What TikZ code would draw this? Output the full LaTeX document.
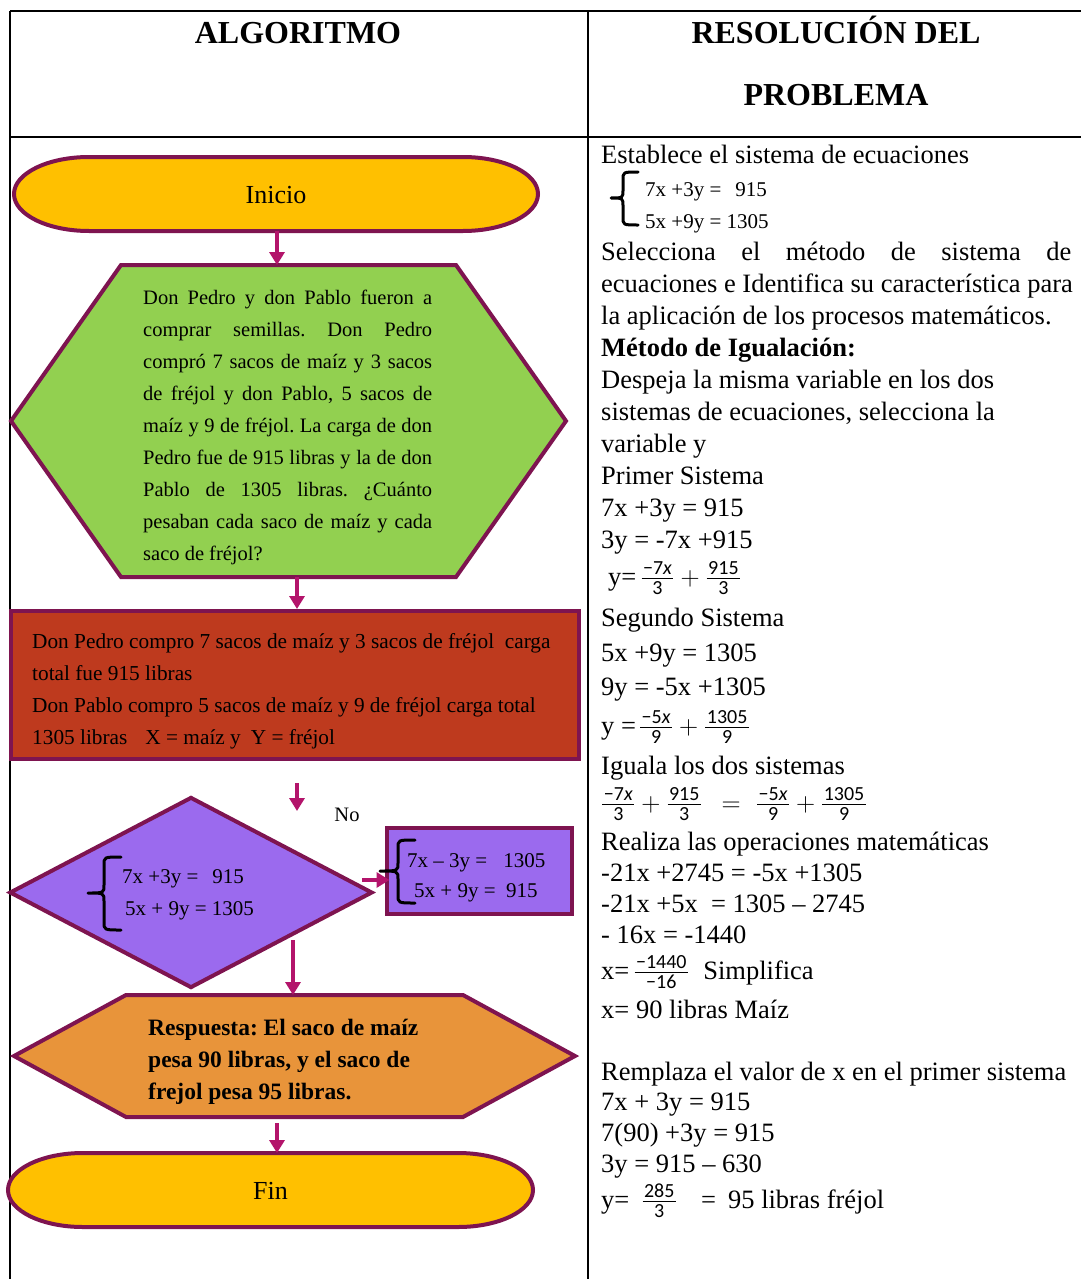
\documentclass[tikz,border=0pt]{standalone}
\usepackage{fix-cm}
\usepackage{amsmath}
\usepackage{fontspec}
\setmainfont{Liberation Serif}
\newfontfamily\carl{Carlito}
\usetikzlibrary{arrows.meta,shapes.geometric,calc}
\definecolor{bord}{HTML}{7E1450}
\definecolor{arrc}{HTML}{B3146B}
\definecolor{termfill}{HTML}{FFC000}
\definecolor{grn}{HTML}{92D050}
\definecolor{redb}{HTML}{BE3A1E}
\definecolor{purp}{HTML}{9B6AEE}
\definecolor{orng}{HTML}{E8943A}
\newcommand{\fs}[1]{\fontsize{#1}{#1}\selectfont}
\newcommand{\jl}[1]{\makebox[\linewidth][s]{#1}}
\newcommand{\numf}{\fontsize{20}{20}\selectfont\carl}
\newcommand{\fr}[2]{\genfrac{}{}{1.6pt}{1}{\mbox{\numf\hspace{1.5pt}#1\hspace{1.5pt}}}{\mbox{\numf #2}}}
\newcommand{\termpath}[1]{%
  \draw[shp, fill=termfill] ($(#1.north west)+(75,0)$) -- ($(#1.north east)+(-75,0)$)
    arc[start angle=90,end angle=-90,x radius=75,y radius=37]
    -- ($(#1.south west)+(75,0)$)
    arc[start angle=270,end angle=90,x radius=75,y radius=37] -- cycle;}
\newcommand{\hexpath}[3]{%
  \draw[shp, fill=#2] (#1.west) -- ($(#1.north west)+(#3,0)$) -- ($(#1.north east)+(-#3,0)$)
    -- (#1.east) -- ($(#1.south east)+(-#3,0)$) -- ($(#1.south west)+(#3,0)$) -- cycle;}
\newcommand{\bracepath}[6]{%
  \draw[line width=3pt, black, line cap=round, line join=round]
    (#3,#4) .. controls (#2,#4) .. (#2,{#4-8}) -- (#2,{#5+8})
    .. controls (#2,#5) .. (#1,#5) .. controls (#2,#5) .. (#2,{#5-8})
    -- (#2,{#6+8}) .. controls (#2,#6) .. (#3,#6);}
\begin{document}
\frenchspacing
\begin{tikzpicture}[x=1pt,y=1pt,
  shp/.style={draw=bord, line width=4pt, line join=miter},
  abox/.style={draw=none, inner sep=0pt, outer sep=0pt},
  arr/.style={draw=arrc, line width=3.5pt, -{Triangle[width=15pt,length=13pt]}},
  rt/.style={anchor=base west, inner sep=0pt, font=\fs{26.5}},
  lt/.style={anchor=base west, inner sep=0pt},
  tbl/.style={line width=2pt, black}
]
\useasboundingbox (0,0) rectangle (1081,-1279);
\fill[white] (0,0) rectangle (1081,-1279);
% table
\draw[tbl] (10,-11) -- (1081,-11);
\draw[tbl] (10,-137) -- (1081,-137);
\draw[tbl] (10,-11) -- (10,-1279);
\draw[tbl] (588,-11) -- (588,-1279);
% headers
\node[anchor=base, inner sep=0pt, font=\bfseries\fs{32}] (h1) at (298,-44) {ALGORITMO};
\node[anchor=base, inner sep=0pt, font=\bfseries\fs{32}] (h2) at (836,-44) {RESOLUCIÓN DEL};
\node[anchor=base, inner sep=0pt, font=\bfseries\fs{32}] (h3) at (836,-106) {PROBLEMA};
% Inicio
\node[abox, minimum width=524pt, minimum height=74pt] (ini) at (276,-194) {};
\termpath{ini}
\node[font=\fs{26}, inner sep=0pt] (initxt) at (276,-195) {Inicio};
% green hexagon
\node[abox, minimum width=555pt, minimum height=312pt] (hx) at (288.5,-421) {};
\hexpath{hx}{grn}{110}
\node[lt] (hxtxt) at (143,-304) {\parbox[t]{289pt}{\fontsize{20.5}{32}\selectfont
\jl{Don Pedro y don Pablo fueron a}\\
\jl{comprar semillas. Don Pedro}\\
\jl{compró 7 sacos de maíz y 3 sacos}\\
\jl{de fréjol y don Pablo, 5 sacos de}\\
\jl{maíz y 9 de fréjol. La carga de don}\\
\jl{Pedro fue de 915 libras y la de don}\\
\jl{Pablo de 1305 libras. ¿Cuánto}\\
\jl{pesaban cada saco de maíz y cada}\\
saco de fréjol?}};
% red box
\node[rectangle, draw=bord, line width=4pt, fill=redb, minimum width=568pt, minimum height=148pt, inner sep=0pt] (rb) at (294.75,-685) {};
\node[lt] (rbtxt) at (32,-648) {\parbox[t]{560pt}{\raggedright\fontsize{21.3}{32}\selectfont
Don Pedro compro 7 sacos de maíz y 3 sacos de fréjol\ \ carga\\
total fue 915 libras\\
Don Pablo compro 5 sacos de maíz y 9 de fréjol carga total\\
1305 libras\hspace{18pt}X = maíz y\hspace{10pt}Y = fréjol}};
% diamond
\node[diamond, draw=bord, line width=4pt, fill=purp, minimum width=363pt, minimum height=191pt, inner sep=0pt] (dia) at (191,-892.5) {};
\bracepath{88}{104}{121}{-857}{-893}{-930}
\node[lt, font=\fs{21}] (d1) at (122,-883) {7x +3y =\hspace{14pt}915};
\node[lt, font=\fs{21}] (d2) at (125,-915) {5x + 9y = 1305};
\node[font=\fs{20.5}, inner sep=0pt] (no) at (347,-815) {No};
% purple box
\node[rectangle, draw=bord, line width=4pt, fill=purp, minimum width=185pt, minimum height=86pt, inner sep=0pt] (pb) at (479,-871) {};
\bracepath{380}{398}{415}{-840}{-871}{-903}
\node[lt, font=\fs{21}] (p1) at (407,-867) {7x – 3y =\hspace{16pt}1305};
\node[lt, font=\fs{21}] (p2) at (414,-897) {5x + 9y =\ \ 915};
% orange hexagon
\node[abox, minimum width=561pt, minimum height=122pt] (ox) at (294.5,-1056) {};
\hexpath{ox}{orng}{112}
\node[lt] (oxtxt) at (148,-1035) {\parbox[t]{300pt}{\raggedright\bfseries\fontsize{23.5}{32}\selectfont
Respuesta: El saco de maíz\\
pesa 90 libras, y el saco de\\
frejol pesa 95 libras.}};
% Fin
\node[abox, minimum width=525pt, minimum height=74pt] (fin) at (270.5,-1190) {};
\termpath{fin}
\node[font=\fs{26}, inner sep=0pt] (fintxt) at (270.5,-1191) {Fin};
% arrows
\draw[arr] ($(ini.south)+(1,0)$) -- ($(ini.south |- hx.north)+(1,0)$);
\draw[arr] ($(hx.south)+(8.5,0)$) -- ($(rb.north)+(2.25,0)$);
\coordinate (f1) at (297,-783);
\coordinate (f2) at (297,-811);
\draw[arr] (f1) -- (f2);
\coordinate (f3) at (362,-880);
\draw[arr] (f3) -- ($(f3 -| pb.west)+(5,0)$);
\coordinate (f4) at (293,-940);
\draw[arr] (f4) -- (f4 |- ox.north);
\draw[arr] ($(ox.south)+(-17.5,-6)$) -- ($(fin.north)+(6.5,0)$);
% right column
\node[rt] (r1) at (601,-163) {Establece el sistema de ecuaciones};
\bracepath{611}{623}{638}{-172}{-198}{-225}
\node[lt, font=\fs{21}] (e1) at (645,-196) {7x +3y =\hspace{14pt}915};
\node[lt, font=\fs{21}] (e2) at (645,-228) {5x +9y = 1305};
\node[rt] (r2) at (601,-260) {\makebox[470pt][s]{Selecciona el método de sistema de}};
\node[rt] (r3) at (601,-292) {ecuaciones e Identifica su característica para};
\node[rt] (r4) at (601,-324) {la aplicación de los procesos matemáticos.};
\node[rt, font=\bfseries\fs{26.5}] (r5) at (601,-356) {Método de Igualación:};
\node[rt] (r6) at (601,-388) {Despeja la misma variable en los dos};
\node[rt] (r7) at (601,-420) {sistemas de ecuaciones, selecciona la};
\node[rt] (r8) at (601,-452) {variable y};
\node[rt] (r9) at (601,-484) {Primer Sistema};
\node[rt] (r10) at (601,-516) {7x +3y = 915};
\node[rt] (r11) at (601,-548) {3y = -7x +915};
\node[rt] (r12) at (608,-585) {y=\hspace{4pt}$\fr{−7\textit{x}}{3}+\fr{915}{3}$};
\node[rt] (r13) at (601,-626) {Segundo Sistema};
\node[rt] (r14) at (601,-661) {5x +9y = 1305};
\node[rt] (r15) at (601,-695) {9y = -5x +1305};
\node[rt] (r16) at (601,-734) {y =\hspace{3pt}$\fr{−5\textit{x}}{9}+\fr{1305}{9}$};
\node[rt] (r17) at (601,-774) {Iguala los dos sistemas};
\node[rt] (r18) at (601,-811) {$\fr{−7\textit{x}}{3}+\fr{915}{3}\hspace{12pt}=\hspace{8pt}\fr{−5\textit{x}}{9}+\fr{1305}{9}$};
\node[rt] (r19) at (601,-850) {Realiza las operaciones matemáticas};
\node[rt] (r20) at (601,-881) {-21x +2745 = -5x +1305};
\node[rt] (r21) at (601,-912) {-21x +5x\ \ = 1305 – 2745};
\node[rt] (r22) at (601,-943) {- 16x = -1440};
\node[rt] (r23) at (601,-979) {x=\hspace{4pt}$\fr{−1440}{−16}$\hspace{14pt}Simplifica};
\node[rt] (r24) at (601,-1018) {x= 90 libras Maíz};
\node[rt] (r25) at (601,-1080) {Remplaza el valor de x en el primer sistema};
\node[rt] (r26) at (601,-1110) {7x + 3y = 915};
\node[rt] (r27) at (601,-1141) {7(90) +3y = 915};
\node[rt] (r28) at (601,-1172) {3y = 915 – 630};
\node[rt] (r29) at (601,-1208) {y=\hspace{12pt}$\fr{285}{3}$\hspace{24pt}=\hspace{12pt}95 libras fréjol};
\end{tikzpicture}
\end{document}
